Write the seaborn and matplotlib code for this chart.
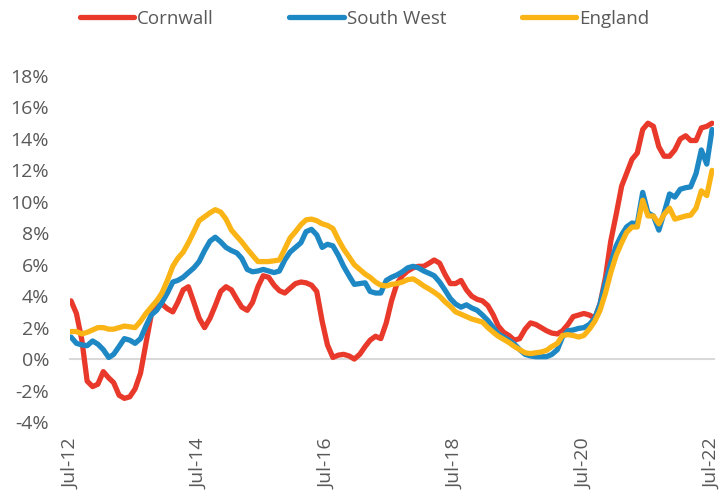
import pandas as pd
import matplotlib
matplotlib.use("Agg")
import matplotlib.pyplot as plt
import matplotlib.dates as mdates
import matplotlib.ticker as mticker
import seaborn as sns

# monthly figures, Jul-12 .. Jul-22 (annual % change)
months = pd.date_range("2012-07-01", "2022-07-01", freq="MS")

cornwall = [
    3.7, 2.9, 1.2, -1.4, -1.75, -1.6, -0.8, -1.2, -1.5, -2.3, -2.5, -2.4,
    -1.9, -0.9, 1.0, 2.8, 3.4, 3.5, 3.2, 3.0, 3.6, 4.4, 4.6, 3.6,
    2.6, 2.0, 2.6, 3.4, 4.3, 4.6, 4.4, 3.8, 3.3, 3.1, 3.6, 4.6,
    5.3, 5.2, 4.7, 4.35, 4.2, 4.5, 4.8, 4.9, 4.85, 4.7, 4.3, 2.4,
    0.9, 0.1, 0.25, 0.3, 0.2, 0.0, 0.3, 0.8, 1.2, 1.45, 1.3, 2.3,
    3.7, 4.8, 5.3, 5.6, 5.8, 5.9, 5.9, 6.1, 6.3, 6.1, 5.4, 4.8,
    4.8, 5.0, 4.4, 4.0, 3.8, 3.7, 3.4, 2.8, 2.1, 1.7, 1.5, 1.2,
    1.3, 1.9, 2.3, 2.2, 2.0, 1.8, 1.65, 1.6, 1.8, 2.2, 2.7, 2.8,
    2.9, 2.8, 2.6, 3.5, 5.2, 7.5, 9.2, 11.0, 11.8, 12.7, 13.1, 14.6,
    15.0, 14.8, 13.5, 12.9, 12.9, 13.3, 14.0, 14.2, 13.9, 13.9, 14.7, 14.8,
    15.0,
]

south_west = [
    1.4, 1.0, 0.9, 0.85, 1.15, 0.95, 0.6, 0.1, 0.3, 0.8, 1.3, 1.2,
    1.0, 1.3, 2.1, 2.8, 3.1, 3.6, 4.2, 4.9, 5.0, 5.2, 5.5, 5.8,
    6.2, 6.9, 7.5, 7.75, 7.45, 7.1, 6.9, 6.75, 6.4, 5.7, 5.55, 5.6,
    5.7, 5.6, 5.5, 5.6, 6.3, 6.8, 7.1, 7.4, 8.1, 8.25, 7.9, 7.1,
    7.3, 7.2, 6.6, 5.9, 5.3, 4.75, 4.8, 4.85, 4.3, 4.2, 4.2, 5.0,
    5.2, 5.35, 5.55, 5.8, 5.9, 5.8, 5.6, 5.45, 5.3, 4.9, 4.4, 3.85,
    3.5, 3.3, 3.45, 3.25, 3.1, 2.8, 2.45, 2.0, 1.6, 1.4, 1.2, 0.95,
    0.6, 0.3, 0.2, 0.15, 0.15, 0.15, 0.3, 0.6, 1.4, 1.8, 1.85, 1.95,
    2.0, 2.2, 2.6, 3.5, 4.9, 6.1, 7.2, 7.9, 8.4, 8.65, 8.6, 10.6,
    9.3, 9.1, 8.2, 9.3, 10.5, 10.3, 10.8, 10.9, 10.95, 11.8, 13.3, 12.4,
    14.6,
]

england = [
    1.75, 1.75, 1.6, 1.7, 1.85, 2.0, 2.0, 1.9, 1.9, 2.0, 2.1, 2.05,
    2.0, 2.4, 2.9, 3.3, 3.7, 4.2, 5.0, 5.9, 6.4, 6.8, 7.4, 8.1,
    8.8, 9.05, 9.3, 9.5, 9.35, 8.9, 8.2, 7.8, 7.45, 7.0, 6.6, 6.2,
    6.2, 6.2, 6.25, 6.3, 7.0, 7.7, 8.1, 8.55, 8.85, 8.9, 8.8, 8.6,
    8.5, 8.3, 7.6, 7.0, 6.5, 6.0, 5.7, 5.4, 5.2, 4.9, 4.7, 4.65,
    4.75, 4.8, 4.9, 5.05, 5.1, 4.9, 4.65, 4.45, 4.25, 4.0, 3.65, 3.35,
    3.0, 2.85, 2.7, 2.55, 2.45, 2.35, 2.0, 1.7, 1.45, 1.25, 1.05, 0.8,
    0.6, 0.4, 0.35, 0.4, 0.45, 0.55, 0.8, 1.0, 1.5, 1.55, 1.5, 1.4,
    1.5, 1.9, 2.4, 3.1, 4.2, 5.5, 6.6, 7.4, 8.05, 8.4, 8.4, 10.1,
    9.1, 9.1, 8.6, 9.2, 9.6, 8.9, 9.0, 9.1, 9.15, 9.6, 10.7, 10.4,
    12.0,
]

series_names = ["Cornwall", "South West", "England"]
colours = ["#E8392A", "#1E88C4", "#FBB416"]
y_ticks = list(range(-4, 20, 2))

df = pd.DataFrame({"month": months,
                   "Cornwall": cornwall,
                   "South West": south_west,
                   "England": england})
long_df = df.melt(id_vars="month", var_name="area", value_name="change")

sns.set_style("white")
plt.rcParams["font.family"] = ["Open Sans", "DejaVu Sans"]
grey = "#595959"

fig = plt.figure(figsize=(7.21, 4.97), dpi=100)
ax = fig.add_axes([0.097, 0.151, 0.893, 0.696])

sns.lineplot(data=long_df, x="month", y="change", hue="area",
             hue_order=series_names, palette=colours, linewidth=3.8,
             ax=ax, legend=True)
for line in ax.get_lines():
    line.set_solid_capstyle("round")
    line.set_solid_joinstyle("round")

ax.set_ylim(-4, 18)
ax.set_yticks(y_ticks)
ax.yaxis.set_major_formatter(mticker.FuncFormatter(lambda v, p: f"{v:.0f}%"))
ax.set_xlim(months[0] - pd.Timedelta(days=6), months[-1] + pd.Timedelta(days=10))
ax.xaxis.set_major_locator(mdates.YearLocator(base=2, month=7, day=1))
ax.xaxis.set_major_formatter(mdates.DateFormatter("%b-%y"))

for s in ["top", "right", "left"]:
    ax.spines[s].set_visible(False)
ax.spines["bottom"].set_position(("data", 0))
ax.spines["bottom"].set_color("#d9d9d9")
ax.spines["bottom"].set_linewidth(1.5)
ax.spines["bottom"].set_zorder(0)

ax.tick_params(axis="y", length=0, labelsize=14, labelcolor=grey, pad=15)
ax.tick_params(axis="x", length=7, width=1.5, color="#d9d9d9", labelsize=14,
               labelcolor=grey, pad=50, labelrotation=90)
for lab in ax.get_xticklabels():
    lab.set_verticalalignment("top")

ax.set_xlabel("")
ax.set_ylabel("")

handles, labels = ax.get_legend_handles_labels()
ax.legend(handles, labels, loc="upper left", bbox_to_anchor=(0.100, 0.995),
          bbox_transform=fig.transFigure, ncol=3, frameon=False,
          fontsize=13.5, labelcolor=grey, handlelength=2.9, handletextpad=0.15,
          columnspacing=4.05, borderaxespad=0)

fig.savefig("out.png", dpi=100)
